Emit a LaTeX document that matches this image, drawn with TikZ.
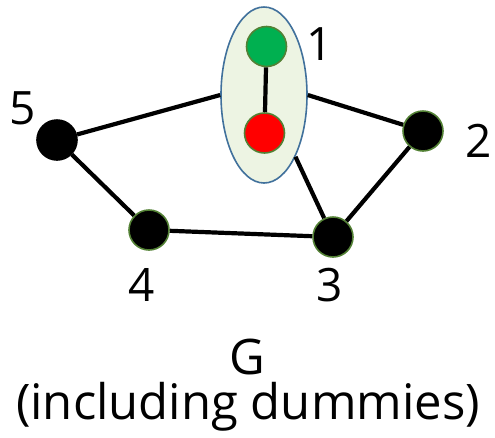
\documentclass[tikz,border=0pt]{standalone}
\usepackage{fontspec}
\setmainfont{Open Sans}
\usetikzlibrary{shapes.geometric}
\definecolor{nodegreen}{HTML}{00B050}
\definecolor{outlinegreen}{HTML}{538135}
\definecolor{ellfill}{HTML}{EDF4E3}
\definecolor{ellline}{HTML}{41719C}
\begin{document}
\begin{tikzpicture}[x=1pt,y=-1pt,
  vert/.style={circle,fill=black,draw=outlinegreen,line width=1.6pt,minimum size=40pt,inner sep=0pt},
  vertblack/.style={vert,draw=black},
  edge/.style={line width=4.2pt},
  lbl/.style={font=\fontsize{46}{54}\selectfont,inner sep=0pt},
  captiontext/.style={font=\fontsize{49}{56}\selectfont,inner sep=0pt}]
\useasboundingbox (0,0) rectangle (495,437);
\node[ellipse,fill=ellfill,draw=ellline,line width=1.6pt,minimum width=86pt,minimum height=176pt,inner sep=0pt] (e) at (264,95) {};
\node[vert,fill=nodegreen] (g) at (266.5,46.5) {};
\node[vert,fill=red] (r) at (264.5,133) {};
\node[vertblack] (v5) at (57,140) {};
\node[vert] (v4) at (149,230) {};
\node[vert] (v3) at (333,237) {};
\node[vert] (v2) at (423,131) {};
\draw[edge] (g) -- (r);
\draw[edge] (v5) -- (e.west);
\draw[edge] (v2) -- (e.east);
\draw[edge] (v3) -- (e.-63);
\draw[edge] (v5) -- (v4);
\draw[edge] (v4) -- (v3);
\draw[edge] (v3) -- (v2);
\node[lbl] (l1) at (320,44) {1};
\node[lbl] (l2) at (479,141) {2};
\node[lbl] (l3) at (330,285) {3};
\node[lbl] (l4) at (142,285) {4};
\node[lbl] (l5) at (23,108) {5};
\node[captiontext] (t1) at (247,357) {G};
\node[captiontext] (t2) at (248,407) {(including dummies)};
\end{tikzpicture}
\end{document}
